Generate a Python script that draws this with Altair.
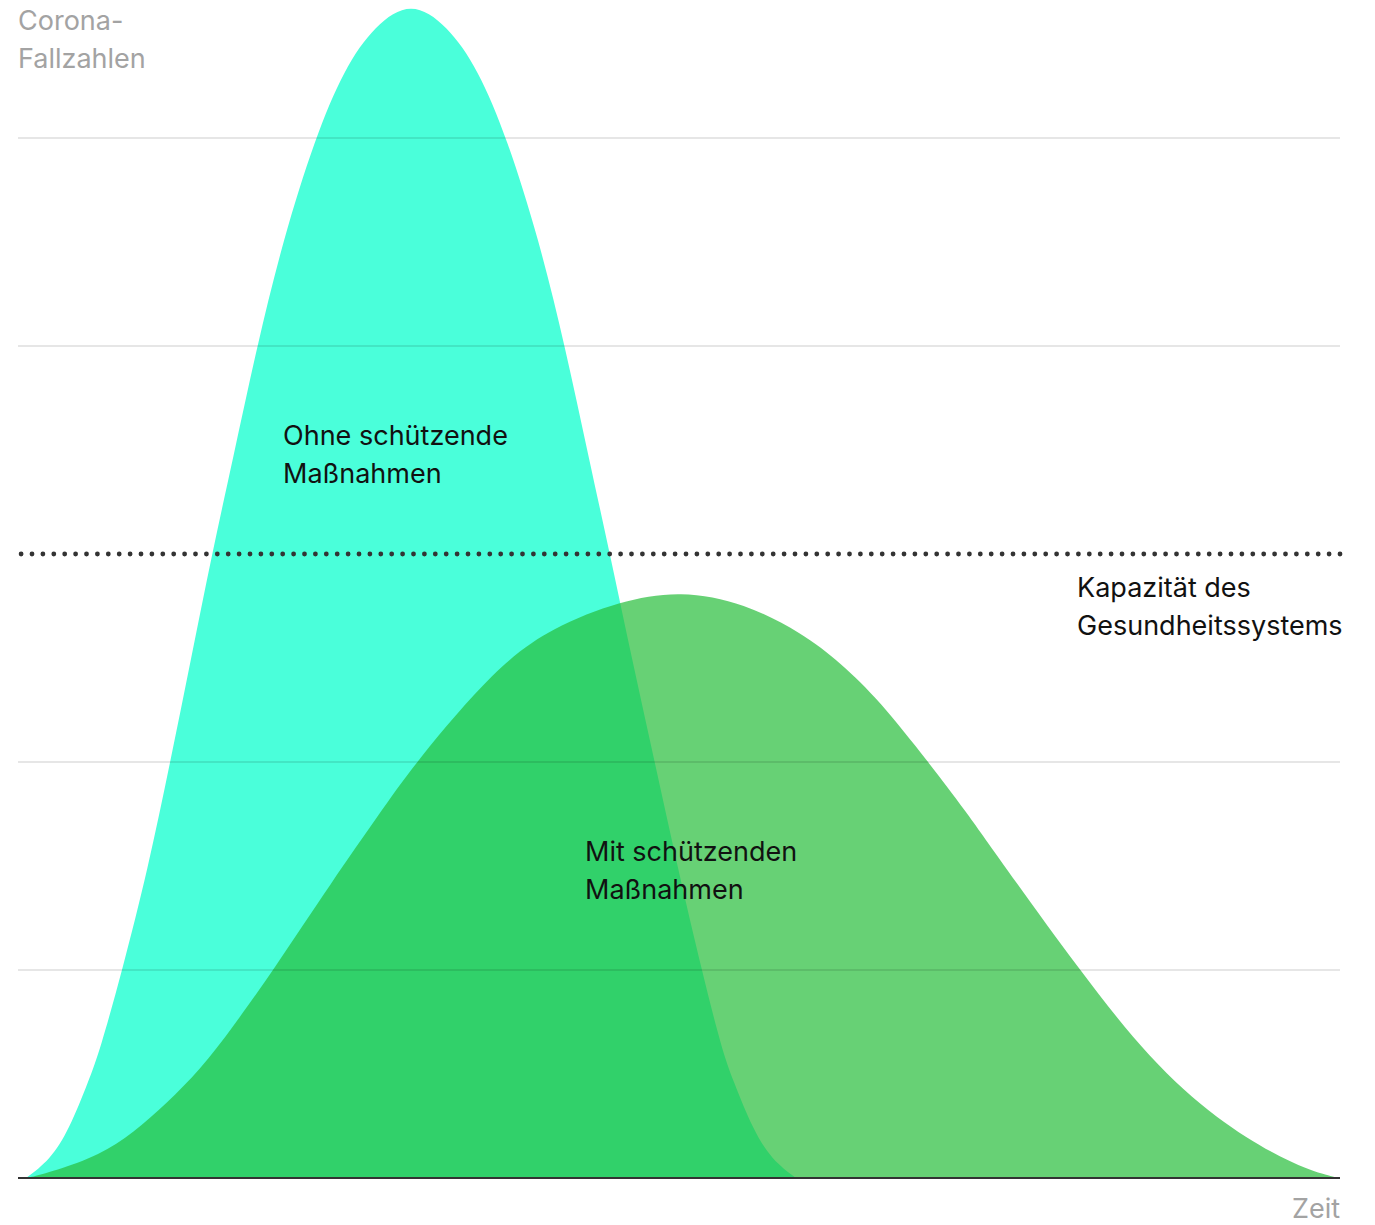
import altair as alt
import pandas as pd

# --- data ---
# time axis 0..100, values in grid units (capacity of the health system = 3)
ohne_t = [0.61, 2.42, 3.86, 5.37, 6.20, 7.87, 9.83, 11.50, 13.09, 14.67, 16.26, 18.08,
          20.05, 22.47, 24.66, 27.00, 29.73, 32.45, 34.80, 36.99, 39.41, 41.38, 43.19,
          44.78, 46.44, 48.18, 49.92, 51.74, 53.25, 54.08, 55.60, 57.03, 58.85]
ohne_v = [0.0, 0.087, 0.231, 0.471, 0.615, 0.995, 1.486, 1.995, 2.495, 3.0, 3.457, 4.0,
          4.51, 5.0, 5.332, 5.543, 5.66, 5.543, 5.332, 5.0, 4.51, 4.0, 3.457,
          3.0, 2.495, 1.995, 1.486, 0.995, 0.615, 0.471, 0.231, 0.087, 0.0]

mit_t = [0.68, 2.80, 6.20, 8.70, 11.27, 13.77, 16.26, 19.21, 23.83, 27.38, 30.03,
         36.16, 40.47, 45.54, 50.08, 54.99, 59.30, 62.25, 65.13, 68.91, 71.63, 74.28,
         80.33, 85.63, 90.70, 95.69, 99.02, 100.0]
mit_v = [0.0, 0.034, 0.111, 0.216, 0.361, 0.519, 0.726, 0.99, 1.433, 1.755, 1.995,
         2.457, 2.649, 2.774, 2.825, 2.764, 2.62, 2.476, 2.298, 1.995, 1.769, 1.529,
         0.995, 0.567, 0.279, 0.087, 0.01, 0.0]

grid_values = [1, 2, 4, 5]
capacity = [3]
baseline = [0]

label_text = ["Corona-\nFallzahlen", "Ohne schützende\nMaßnahmen", "Mit schützenden\nMaßnahmen",
              "Kapazität des\nGesundheitssystems"]
label_t = [0.0, 20.05, 42.89, 80.11]
label_v = [5.519, 3.524, 1.524, 2.793]
label_color = ["#a3a3a3", "#111111", "#111111", "#111111"]

axis_title_text = ["Zeit"]
axis_title_t = [100.0]
axis_title_v = [-0.192]

X_DOMAIN = [0, 100]
Y_DOMAIN = [0, 5.6635]

xs = alt.Scale(domain=X_DOMAIN, nice=False, zero=False)
ys = alt.Scale(domain=Y_DOMAIN, nice=False, zero=False)

ohne_df = pd.DataFrame({"t": ohne_t, "v": ohne_v})
mit_df = pd.DataFrame({"t": mit_t, "v": mit_v})
labels_df = pd.DataFrame({"t": label_t, "v": label_v, "text": label_text, "c": label_color})
zeit_df = pd.DataFrame({"t": axis_title_t, "v": axis_title_v, "text": axis_title_text})

ohne = alt.Chart(ohne_df).mark_area(color="#4affda", interpolate="basis").encode(
    x=alt.X("t:Q", scale=xs, axis=None),
    y=alt.Y("v:Q", scale=ys, axis=None),
)

mit = alt.Chart(mit_df).mark_area(color="#27bd3b", opacity=0.7, interpolate="basis").encode(
    x=alt.X("t:Q", scale=xs, axis=None),
    y=alt.Y("v:Q", scale=ys, axis=None),
)

grid = alt.Chart(pd.DataFrame({"g": grid_values})).mark_rule(
    color="black", strokeOpacity=0.2, strokeWidth=1
).encode(y=alt.Y("g:Q", scale=ys, axis=None))

cap = alt.Chart(pd.DataFrame({"g": capacity})).mark_rule(
    color="#333333", strokeWidth=4.8, strokeDash=[0, 10.9], strokeCap="round"
).encode(y=alt.Y("g:Q", scale=ys, axis=None))

base = alt.Chart(pd.DataFrame({"g": baseline})).mark_rule(
    color="#333333", strokeWidth=2
).encode(y=alt.Y("g:Q", scale=ys, axis=None))

labels = alt.Chart(labels_df).mark_text(
    align="left", baseline="alphabetic", font="Inter", fontSize=27, lineHeight=38,
    lineBreak="\n"
).encode(
    x=alt.X("t:Q", scale=xs, axis=None),
    y=alt.Y("v:Q", scale=ys, axis=None),
    text="text:N",
    color=alt.Color("c:N", scale=None),
)

zeit = alt.Chart(zeit_df).mark_text(
    align="right", baseline="alphabetic", font="Inter", fontSize=27, color="#a3a3a3"
).encode(
    x=alt.X("t:Q", scale=xs, axis=None),
    y=alt.Y("v:Q", scale=ys, axis=None),
    text="text:N",
)

chart = alt.layer(ohne, mit, grid, cap, base, labels, zeit).properties(
    width=1322,
    height=1178,
    autosize=alt.AutoSizeParams(type="none"),
    padding={"left": 18, "top": 0, "right": 35, "bottom": 47},
    background="white",
).configure_view(stroke=None)

chart.save("out.html", embed_options={"renderer": "svg", "actions": False})
